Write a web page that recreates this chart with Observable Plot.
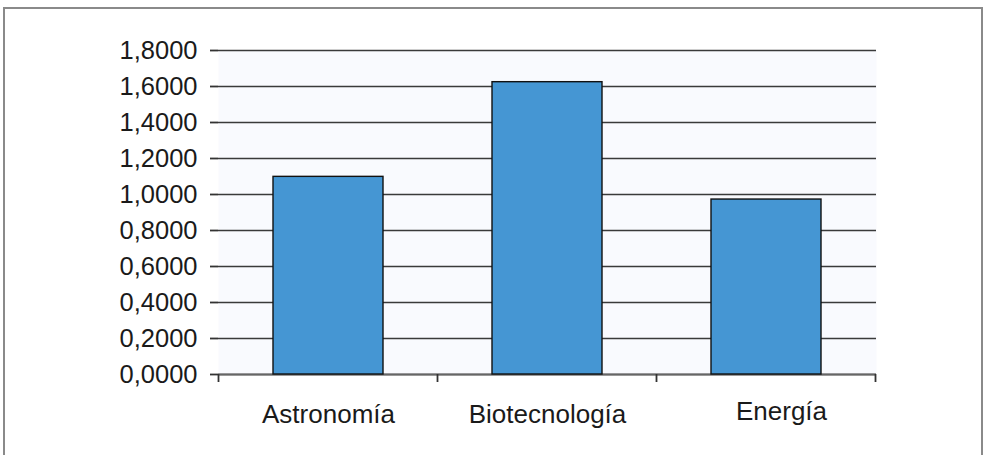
<!DOCTYPE html>
<html>
<head>
<meta charset="utf-8">
<script src="https://cdn.jsdelivr.net/npm/d3@7"></script>
<script src="https://cdn.jsdelivr.net/npm/@observablehq/plot@0.6"></script>
<style>
  html, body { margin: 0; padding: 0; background: #fff; overflow: hidden; }
  #wrap { position: relative; width: 989px; height: 455px; }
  #border { position: absolute; left: 3px; top: 7px; width: 980px; height: 470px;
            border: 2px solid #8a8a8a; box-sizing: border-box; pointer-events: none; }
</style>
</head>
<body>
<div id="wrap"><div id="border"></div></div>
<script>
// Áreas y su valor
const categories = ["Astronomía", "Biotecnología", "Energía"];
const values = [1.098, 1.624, 0.972];
const yTicks = [0, 0.2, 0.4, 0.6, 0.8, 1.0, 1.2, 1.4, 1.6, 1.8];

const data = categories.map((c, i) => ({area: c, valor: values[i]}));
const fmt = d => d.toFixed(4).replace(".", ",");
const font = "'Liberation Sans', Arial, sans-serif";

// Marcas cortas en los límites de cada categoría, bajo el eje horizontal
function bandBoundaries(index, scales, values, dims) {
  const x = scales.x;
  const bw = x.bandwidth ? x.bandwidth() : 0;
  const xs = categories.map(c => x(c));
  const step = xs.length > 1 ? xs[1] - xs[0] : bw;
  const pad = (step - bw) / 2;
  const edges = xs.map(v => v - pad).concat([xs[xs.length - 1] + bw + pad]);
  const y0 = dims.height - dims.marginBottom;
  const g = d3.create("svg:g");
  g.selectAll("line").data(edges).join("line")
    .attr("x1", d => d).attr("x2", d => d)
    .attr("y1", y0).attr("y2", y0 + 8)
    .attr("stroke", "#333").attr("stroke-width", 1.8);
  return g.node();
}

const chart = Plot.plot({
  width: 989,
  height: 455,
  marginLeft: 218,
  marginRight: 113,
  marginTop: 50,
  marginBottom: 81,
  style: {fontFamily: font, background: "transparent", overflow: "visible"},
  x: {domain: categories, paddingInner: 0.5, paddingOuter: 0.25},
  y: {domain: [0, 1.8]},
  marks: [
    Plot.frame({fill: "#f9fafe", stroke: null}),
    Plot.gridY(yTicks, {stroke: "#3a3a3a", strokeOpacity: 1, strokeWidth: 1.4}),
    Plot.ruleX([0], {frameAnchor: "right", stroke: "#444", strokeWidth: 2}),
    Plot.ruleY([0], {stroke: "#666", strokeWidth: 2}),
    Plot.barY(data, {x: "area", y: "valor", fill: "#4596d3", stroke: "#111", strokeWidth: 1.4}),
    Plot.axisY({ticks: yTicks, tickFormat: fmt, tickSize: 8, tickPadding: 13,
      fontSize: 25.5, stroke: "#333", strokeWidth: 1.8, fill: "#1a1a1a", label: null}),
    Plot.ruleX([0], {frameAnchor: "left", stroke: "#000", strokeWidth: 2}),
    // Etiquetas de categoría; la última va algo desplazada a la derecha
    Plot.axisX({ticks: categories.slice(0, 2), tickSize: 0, tickPadding: 30,
      fontSize: 26, fill: "#1a1a1a", label: null}),
    Plot.axisX({ticks: categories.slice(2), tickSize: 0, tickPadding: 27, dx: 15,
      fontSize: 26, fill: "#1a1a1a", label: null}),
    bandBoundaries
  ]
});

document.getElementById("wrap").prepend(chart);
</script>
</body>
</html>
